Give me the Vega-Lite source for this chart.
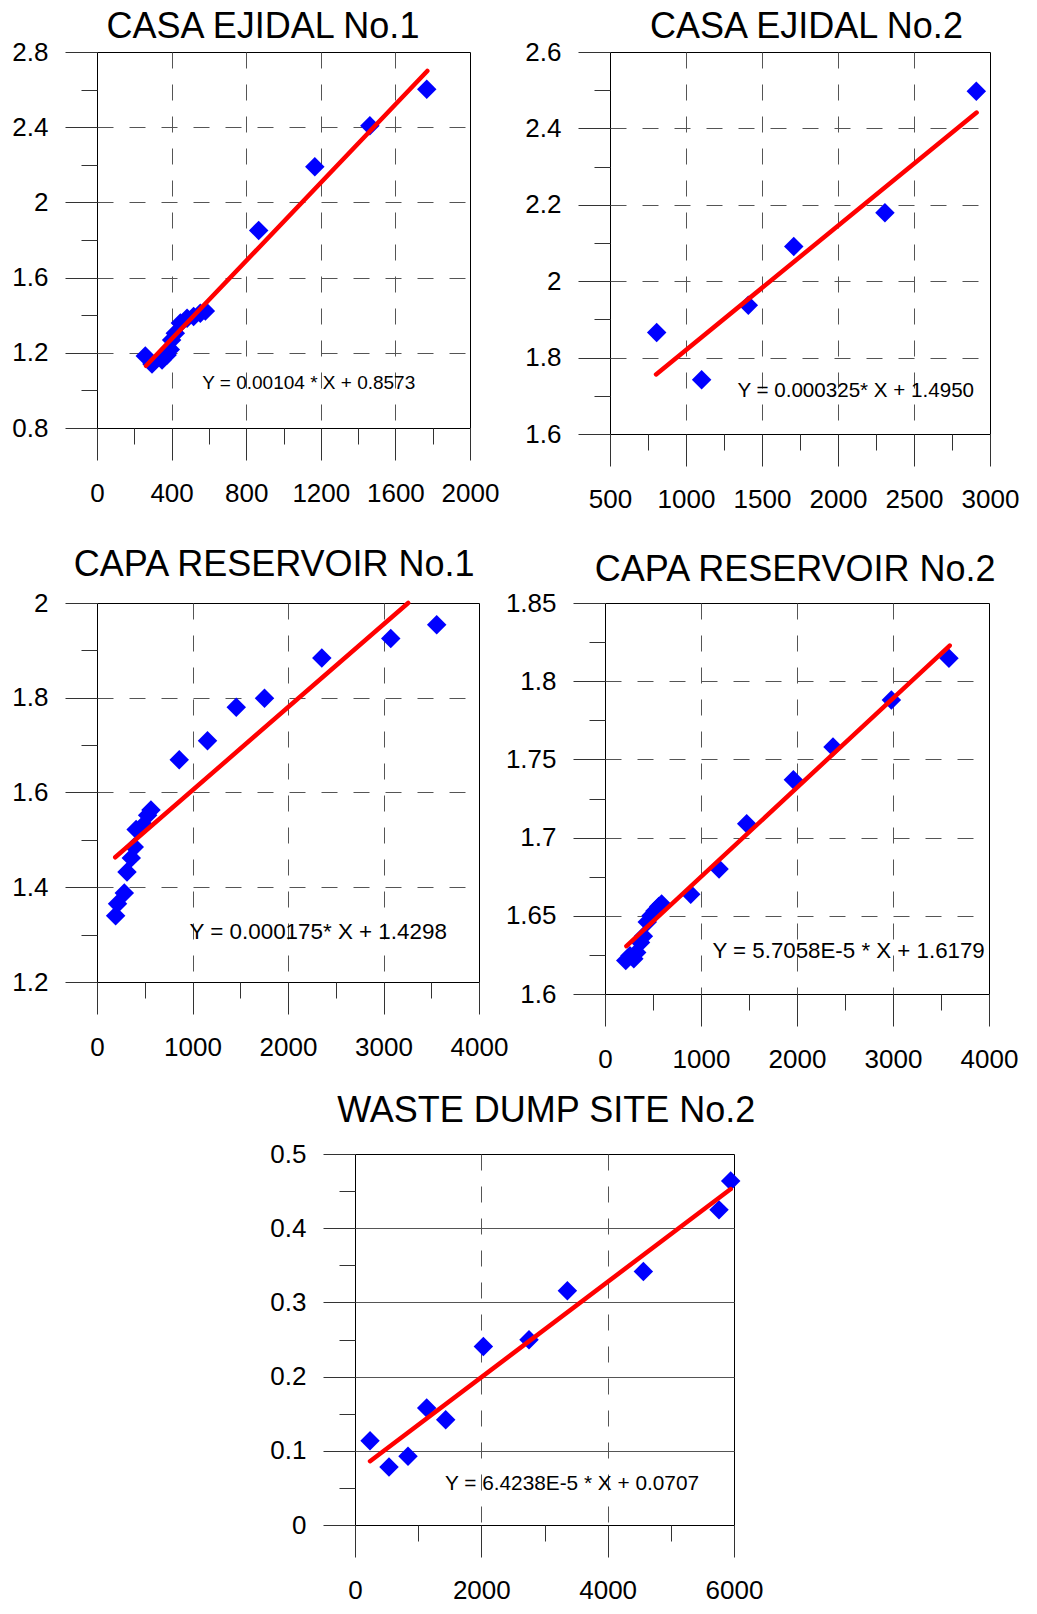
{
  "$schema": "https://vega.github.io/schema/vega-lite/v6.json",
  "background": "white",
  "padding": {"left": 11, "top": 8, "right": 4, "bottom": 4},
  "config": {
    "view": {"stroke": "#000000", "strokeWidth": 1},
    "axis": {
      "domain": false,
      "grid": true,
      "gridColor": "#555555",
      "gridWidth": 1,
      "gridDash": [16, 16],
      "ticks": true,
      "tickColor": "#333333",
      "tickWidth": 1,
      "labelFont": "Liberation Sans",
      "labelFontSize": 26,
      "labelColor": "#000000",
      "labelFlush": false,
      "labelOverlap": false,
      "labelBound": false
    },
    "axisX": {"labelPadding": 20},
    "axisY": {"labelPadding": 17},
    "title": {
      "font": "Liberation Sans",
      "fontSize": 36,
      "fontWeight": "normal",
      "color": "#000000",
      "frame": "group",
      "anchor": "middle",
      "baseline": "alphabetic"
    },
    "point": {"shape": "diamond", "filled": true, "size": 380, "color": "#0000FF", "opacity": 1},
    "line": {"color": "#FF0000", "strokeWidth": 4.5, "strokeCap": "round"},
    "text": {"align": "left", "baseline": "alphabetic", "font": "Liberation Sans", "color": "#000000"}
  },
  "datasets": {
    "ce1_pts": [
      {"x": 259, "y": 1.183}, {"x": 295, "y": 1.140}, {"x": 349, "y": 1.162}, {"x": 376, "y": 1.188},
      {"x": 393, "y": 1.218}, {"x": 400, "y": 1.268}, {"x": 420, "y": 1.304}, {"x": 447, "y": 1.358},
      {"x": 483, "y": 1.384}, {"x": 518, "y": 1.393}, {"x": 554, "y": 1.411}, {"x": 581, "y": 1.422},
      {"x": 867, "y": 1.851}, {"x": 1168, "y": 2.189}, {"x": 1463, "y": 2.408}, {"x": 1768, "y": 2.602}
    ],
    "ce1_fit": [{"x": 263, "y": 1.1308}, {"x": 1771, "y": 2.6991}],
    "ce1_eq": [{"x": 564, "y": 1.006, "label": "Y = 0.00104 * X + 0.8573"}],
    "ce2_pts": [
      {"x": 807, "y": 1.866}, {"x": 1103, "y": 1.742}, {"x": 1410, "y": 1.937},
      {"x": 1709, "y": 2.091}, {"x": 2309, "y": 2.179}, {"x": 2910, "y": 2.497}
    ],
    "ce2_fit": [{"x": 803, "y": 1.7560}, {"x": 2912, "y": 2.4414}],
    "ce2_eq": [{"x": 1338, "y": 1.696, "label": "Y = 0.000325* X + 1.4950"}],
    "cr1_pts": [
      {"x": 195, "y": 1.340}, {"x": 215, "y": 1.365}, {"x": 286, "y": 1.388}, {"x": 314, "y": 1.432},
      {"x": 359, "y": 1.462}, {"x": 390, "y": 1.485}, {"x": 410, "y": 1.522}, {"x": 488, "y": 1.532},
      {"x": 530, "y": 1.552}, {"x": 565, "y": 1.563}, {"x": 861, "y": 1.669}, {"x": 1157, "y": 1.709},
      {"x": 1458, "y": 1.780}, {"x": 1754, "y": 1.799}, {"x": 2354, "y": 1.884}, {"x": 3076, "y": 1.925},
      {"x": 3557, "y": 1.954}
    ],
    "cr1_fit": [{"x": 191, "y": 1.4632}, {"x": 3258, "y": 2.0000}],
    "cr1_eq": [{"x": 969, "y": 1.290, "label": "Y = 0.000175* X + 1.4298"}],
    "cr2_pts": [
      {"x": 216, "y": 1.6214}, {"x": 260, "y": 1.6245}, {"x": 300, "y": 1.6225}, {"x": 330, "y": 1.6265},
      {"x": 370, "y": 1.6330}, {"x": 400, "y": 1.6370}, {"x": 440, "y": 1.6460}, {"x": 480, "y": 1.6500},
      {"x": 520, "y": 1.6530}, {"x": 560, "y": 1.6560}, {"x": 590, "y": 1.6575}, {"x": 893, "y": 1.6638},
      {"x": 1188, "y": 1.6800}, {"x": 1476, "y": 1.7088}, {"x": 1962, "y": 1.7370}, {"x": 2375, "y": 1.7580},
      {"x": 2983, "y": 1.7880}, {"x": 3583, "y": 1.8147}
    ],
    "cr2_fit": [{"x": 223, "y": 1.6306}, {"x": 3591, "y": 1.8228}],
    "cr2_eq": [{"x": 1119, "y": 1.6232, "label": "Y = 5.7058E-5 * X + 1.6179"}],
    "wd2_pts": [
      {"x": 238, "y": 0.1137}, {"x": 538, "y": 0.0781}, {"x": 839, "y": 0.0925}, {"x": 1135, "y": 0.1576},
      {"x": 1436, "y": 0.1419}, {"x": 2032, "y": 0.2406}, {"x": 2755, "y": 0.2497}, {"x": 3362, "y": 0.3156},
      {"x": 4565, "y": 0.3416}, {"x": 5763, "y": 0.4247}, {"x": 5948, "y": 0.4637}
    ],
    "wd2_fit": [{"x": 238, "y": 0.0860}, {"x": 5948, "y": 0.4528}],
    "wd2_eq": [{"x": 1425, "y": 0.0474, "label": "Y = 6.4238E-5 * X + 0.0707"}]
  },
  "spacing": 19,
  "vconcat": [
    {
      "spacing": 33,
      "vconcat": [
        {
          "bounds": "flush",
          "spacing": 140,
          "hconcat": [
            {
              "width": 373,
              "height": 376,
              "title": {"text": "CASA EJIDAL No.1", "offset": -6.8, "dx": -20.5},
              "encoding": {
                "x": {"field": "x", "type": "quantitative",
                  "scale": {"domain": [0, 2000], "nice": false, "zero": false},
                  "axis": {"title": null,
                    "values": [0, 200, 400, 600, 800, 1000, 1200, 1400, 1600, 1800, 2000],
                    "tickSize": {"condition": {"test": "datum.value % 400 == 0", "value": 32}, "value": 16},
                    "labelExpr": "datum.value % 400 == 0 ? format(datum.value, '~g') : ''",
                    "gridOpacity": {"condition": {"test": "datum.value % 400 == 0 && datum.value > 0 && datum.value < 2000", "value": 1}, "value": 0}}},
                "y": {"field": "y", "type": "quantitative",
                  "scale": {"domain": [0.8, 2.8], "nice": false, "zero": false},
                  "axis": {"title": null,
                    "values": [0.8, 1.0, 1.2, 1.4, 1.6, 1.8, 2.0, 2.2, 2.4, 2.6, 2.8],
                    "tickSize": {"condition": {"test": "round(datum.value * 10) % 4 == 0", "value": 32}, "value": 16},
                    "labelExpr": "round(datum.value * 10) % 4 == 0 ? format(datum.value, '~g') : ''",
                    "gridOpacity": {"condition": {"test": "round(datum.value * 10) % 4 == 0 && datum.value > 0.85 && datum.value < 2.75", "value": 1}, "value": 0}}}
              },
              "layer": [
                {"data": {"name": "ce1_pts"}, "mark": {"type": "point"}},
                {"data": {"name": "ce1_fit"}, "mark": {"type": "line"}},
                {"data": {"name": "ce1_eq"}, "mark": {"type": "text", "fontSize": 19}, "encoding": {"text": {"field": "label"}}}
              ]
            },
            {
              "width": 380,
              "height": 382,
              "title": {"text": "CASA EJIDAL No.2", "offset": -6.8, "dx": 6.5},
              "encoding": {
                "x": {"field": "x", "type": "quantitative",
                  "scale": {"domain": [500, 3000], "nice": false, "zero": false},
                  "axis": {"title": null,
                    "values": [500, 750, 1000, 1250, 1500, 1750, 2000, 2250, 2500, 2750, 3000],
                    "tickSize": {"condition": {"test": "datum.value % 500 == 0", "value": 32}, "value": 16},
                    "labelExpr": "datum.value % 500 == 0 ? format(datum.value, '~g') : ''",
                    "gridOpacity": {"condition": {"test": "datum.value % 500 == 0 && datum.value > 500 && datum.value < 3000", "value": 1}, "value": 0}}},
                "y": {"field": "y", "type": "quantitative",
                  "scale": {"domain": [1.6, 2.6], "nice": false, "zero": false},
                  "axis": {"title": null,
                    "values": [1.6, 1.7, 1.8, 1.9, 2.0, 2.1, 2.2, 2.3, 2.4, 2.5, 2.6],
                    "tickSize": {"condition": {"test": "round(datum.value * 10) % 2 == 0", "value": 32}, "value": 16},
                    "labelExpr": "round(datum.value * 10) % 2 == 0 ? format(datum.value, '~g') : ''",
                    "gridOpacity": {"condition": {"test": "round(datum.value * 10) % 2 == 0 && datum.value > 1.65 && datum.value < 2.55", "value": 1}, "value": 0}}}
              },
              "layer": [
                {"data": {"name": "ce2_pts"}, "mark": {"type": "point"}},
                {"data": {"name": "ce2_fit"}, "mark": {"type": "line"}},
                {"data": {"name": "ce2_eq"}, "mark": {"type": "text", "fontSize": 20.6}, "encoding": {"text": {"field": "label"}}}
              ]
            }
          ]
        },
        {
          "bounds": "flush",
          "spacing": 126,
          "hconcat": [
            {
              "width": 382,
              "height": 379,
              "title": {"text": "CAPA RESERVOIR No.1", "offset": 5.8, "dx": -13.8},
              "encoding": {
                "x": {"field": "x", "type": "quantitative",
                  "scale": {"domain": [0, 4000], "nice": false, "zero": false},
                  "axis": {"title": null,
                    "values": [0, 500, 1000, 1500, 2000, 2500, 3000, 3500, 4000],
                    "tickSize": {"condition": {"test": "datum.value % 1000 == 0", "value": 32}, "value": 16},
                    "labelExpr": "datum.value % 1000 == 0 ? format(datum.value, '~g') : ''",
                    "gridOpacity": {"condition": {"test": "datum.value % 1000 == 0 && datum.value > 0 && datum.value < 4000", "value": 1}, "value": 0}}},
                "y": {"field": "y", "type": "quantitative",
                  "scale": {"domain": [1.2, 2.0], "nice": false, "zero": false},
                  "axis": {"title": null,
                    "values": [1.2, 1.3, 1.4, 1.5, 1.6, 1.7, 1.8, 1.9, 2.0],
                    "tickSize": {"condition": {"test": "round(datum.value * 10) % 2 == 0", "value": 32}, "value": 16},
                    "labelExpr": "round(datum.value * 10) % 2 == 0 ? format(datum.value, '~g') : ''",
                    "gridOpacity": {"condition": {"test": "round(datum.value * 10) % 2 == 0 && datum.value > 1.25 && datum.value < 1.95", "value": 1}, "value": 0}}}
              },
              "layer": [
                {"data": {"name": "cr1_pts"}, "mark": {"type": "point"}},
                {"data": {"name": "cr1_fit"}, "mark": {"type": "line"}},
                {"data": {"name": "cr1_eq"}, "mark": {"type": "text", "fontSize": 22.4}, "encoding": {"text": {"field": "label"}}}
              ]
            },
            {
              "width": 384,
              "height": 391,
              "title": {"text": "CAPA RESERVOIR No.2", "offset": 0.8, "dx": -1.8},
              "encoding": {
                "x": {"field": "x", "type": "quantitative",
                  "scale": {"domain": [0, 4000], "nice": false, "zero": false},
                  "axis": {"title": null,
                    "values": [0, 500, 1000, 1500, 2000, 2500, 3000, 3500, 4000],
                    "tickSize": {"condition": {"test": "datum.value % 1000 == 0", "value": 32}, "value": 16},
                    "labelExpr": "datum.value % 1000 == 0 ? format(datum.value, '~g') : ''",
                    "gridOpacity": {"condition": {"test": "datum.value % 1000 == 0 && datum.value > 0 && datum.value < 4000", "value": 1}, "value": 0}}},
                "y": {"field": "y", "type": "quantitative",
                  "scale": {"domain": [1.6, 1.85], "nice": false, "zero": false},
                  "axis": {"title": null,
                    "values": [1.6, 1.625, 1.65, 1.675, 1.7, 1.725, 1.75, 1.775, 1.8, 1.825, 1.85],
                    "tickSize": {"condition": {"test": "round(datum.value * 1000) % 50 == 0", "value": 32}, "value": 16},
                    "labelExpr": "round(datum.value * 1000) % 50 == 0 ? format(datum.value, '~g') : ''",
                    "gridOpacity": {"condition": {"test": "round(datum.value * 1000) % 50 == 0 && datum.value > 1.61 && datum.value < 1.84", "value": 1}, "value": 0}}}
              },
              "layer": [
                {"data": {"name": "cr2_pts"}, "mark": {"type": "point"}},
                {"data": {"name": "cr2_fit"}, "mark": {"type": "line"}},
                {"data": {"name": "cr2_eq"}, "mark": {"type": "text", "fontSize": 22.3}, "encoding": {"text": {"field": "label"}}}
              ]
            }
          ]
        }
      ]
    },
    {
      "bounds": "flush",
      "spacing": 1,
      "hconcat": [
        {
          "width": 257,
          "height": 10,
          "view": {"stroke": null},
          "data": {"values": []},
          "mark": {"type": "point", "opacity": 0},
          "encoding": {}
        },
        {
          "width": 379,
          "height": 371,
          "title": {"text": "WASTE DUMP SITE No.2", "offset": 10.6, "dx": 1.7},
          "encoding": {
            "x": {"field": "x", "type": "quantitative",
              "scale": {"domain": [0, 6000], "nice": false, "zero": false},
              "axis": {"title": null,
                "values": [0, 1000, 2000, 3000, 4000, 5000, 6000],
                "tickSize": {"condition": {"test": "datum.value % 2000 == 0", "value": 32}, "value": 16},
                "labelExpr": "datum.value % 2000 == 0 ? format(datum.value, '~g') : ''",
                "gridOpacity": {"condition": {"test": "datum.value % 2000 == 0 && datum.value > 0 && datum.value < 6000", "value": 1}, "value": 0}}},
            "y": {"field": "y", "type": "quantitative",
              "scale": {"domain": [0, 0.5], "nice": false, "zero": false},
              "axis": {"title": null,
                "values": [0, 0.05, 0.1, 0.15, 0.2, 0.25, 0.3, 0.35, 0.4, 0.45, 0.5],
                "gridDash": [],
                "tickSize": {"condition": {"test": "round(datum.value * 100) % 10 == 0", "value": 32}, "value": 16},
                "labelExpr": "round(datum.value * 100) % 10 == 0 ? format(datum.value, '~g') : ''",
                "gridOpacity": {"condition": {"test": "round(datum.value * 100) % 10 == 0 && datum.value > 0.01 && datum.value < 0.49", "value": 1}, "value": 0}}}
          },
          "layer": [
            {"data": {"name": "wd2_pts"}, "mark": {"type": "point"}},
            {"data": {"name": "wd2_fit"}, "mark": {"type": "line"}},
            {"data": {"name": "wd2_eq"}, "mark": {"type": "text", "fontSize": 20.8}, "encoding": {"text": {"field": "label"}}}
          ]
        }
      ]
    }
  ]
}
